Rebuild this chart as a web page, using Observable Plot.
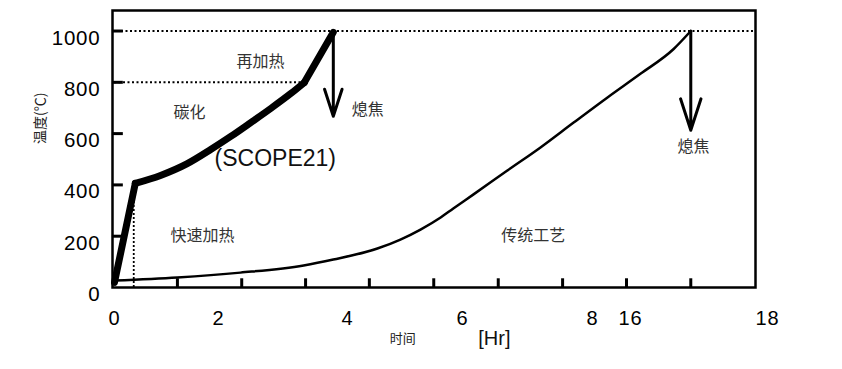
<!DOCTYPE html>
<html><head><meta charset="utf-8">
<script src="https://cdn.jsdelivr.net/npm/d3@7"></script>
<script src="https://cdn.jsdelivr.net/npm/@observablehq/plot@0.6"></script>
<style>
body{margin:0;background:#fff}
svg{display:block}
g[aria-label="y-axis tick label"] text, g[aria-label="x-axis tick label"] text {letter-spacing: 0.8px}
</style>
</head><body><div id="chart"></div>
<script>
// Axis tick labels (broken time axis: 0–8 h, then 16–18 h)
const xTickValues = [0, 2, 4, 6, 8, 16, 18];
const xTickLabels = ["0", "2", "4", "6", "8", "16", "18"];
const xTickMarks = [1.21, 2.36, 3.35, 4.38, 5.5, 6.55, 7.54, 15.16, 16.88];
const yTickValues = [0, 200, 400, 600, 800, 1000];

// SCOPE21 process (hours, °C)
const scopeHours = [0, 0.4, 0.885, 1.4, 1.85, 2.19, 2.5, 2.81, 3.12, 3.33, 3.78];
const scopeTemp  = [20, 406, 437, 483, 538, 589, 643, 698, 756, 799, 995];

// Conventional process (hours, °C)
const tradHours = [0, 1.21, 2.34, 3.32, 3.78, 4.52, 4.92, 5.27, 5.62, 5.84, 6.17, 6.69, 7.20, 7.71, 11.16, 16.15, 16.63, 16.88];
const tradTemp  = [27, 39, 58, 86, 109, 152, 187, 226, 273, 308, 363, 456, 546, 643, 741, 834, 930, 1000];

// Quench arrows
const quenchX = [3.78, 16.88];
const quenchFrom = [1000, 1000];
const quenchTo = [668, 613];

// Region annotations
const annoText = ["再加热", "碳化", "熄焦", "快速加热", "传统工艺", "熄焦"];
const annoX = [2.65, 1.44, 4.35, 1.69, 7.09, 16.92];
const annoY = [879, 680, 691, 203, 203, 547];

const scopeLabel = "(SCOPE21)";
const scopeLabelX = 2.88, scopeLabelY = 503;
const yLabel = "温度(℃)";
const xLabel = "时间";
const xUnit = "[Hr]";
const xLabelX = 4.96, xUnitX = 6.49;
const rapidEndHour = 0.37, rapidEndTemp = 390;
const carbEndHour = 3.33;

const pts = (H, T) => H.map((h, i) => ({h, t: T[i]}));
const scope = pts(scopeHours, scopeTemp);
const scopeRapid = scope.slice(0, 2);
const scopeCarb = scope.slice(1, 10);
const scopeReheat = scope.slice(9);
const trad = pts(tradHours, tradTemp);
const arrows = quenchX.map((x, i) => ({x, y1: quenchFrom[i], y2: quenchTo[i]}));
const annos = annoText.map((s, i) => ({s, x: annoX[i], y: annoY[i]}));

const num = "Liberation Sans, Arial, sans-serif";
const cjk = "Noto Sans CJK SC, sans-serif";

const chart = Plot.plot({
  width: 842, height: 369,
  marginLeft: 112, marginRight: 87, marginTop: 10, marginBottom: 82,
  style: {background: "#fff", color: "#000", fontFamily: num},
  x: {type: "linear", domain: xTickValues, range: [114, 218, 347, 462, 592, 630, 767]},
  y: {domain: [0, 1080]},
  marks: [
    Plot.ruleY([1000], {strokeDasharray: "2,2.5", strokeWidth: 2}),
    Plot.ruleY([800], {x1: 0, x2: carbEndHour, strokeDasharray: "2,2.5", strokeWidth: 2}),
    Plot.ruleX([rapidEndHour], {y1: 0, y2: rapidEndTemp, strokeDasharray: "2,2", strokeWidth: 1.8}),
    Plot.ruleX(xTickMarks, {x: d => d, y1: 0, y2: 34, strokeWidth: 3, stroke: "#000"}),
    Plot.ruleY(yTickValues.slice(1), {y: d => d, x1: -0.04, x2: 0.17, strokeWidth: 3, stroke: "#000"}),
    Plot.frame({strokeWidth: 2.5}),
    Plot.line(trad, {x: "h", y: "t", strokeWidth: 2.5, stroke: "#000", curve: "monotone-x"}),
    Plot.line(scopeRapid, {x: "h", y: "t", strokeWidth: 7, stroke: "#000", strokeLinecap: "round"}),
    Plot.line(scopeCarb, {x: "h", y: "t", strokeWidth: 7, stroke: "#000", curve: "monotone-x", strokeLinecap: "round"}),
    Plot.line(scopeReheat, {x: "h", y: "t", strokeWidth: 7, stroke: "#000", strokeLinecap: "round"}),
    Plot.arrow(arrows, {x1: "x", x2: "x", y1: "y1", y2: "y2", strokeWidth: 3, headLength: 18, headAngle: 36, stroke: "#000"}),
    Plot.text(annos, {x: "x", y: "y", text: "s", fontFamily: cjk, fontSize: 16, fill: "#333"}),
    Plot.text([scopeLabel], {x: scopeLabelX, y: scopeLabelY, fontSize: 23, fontFamily: num, fill: "#111"}),
    Plot.axisX({ticks: xTickValues, tickFormat: d => xTickLabels[xTickValues.indexOf(d)], tickSize: 0, tickPadding: 23, fontSize: 20, label: null}),
    Plot.axisY({ticks: yTickValues, tickFormat: d => String(d), tickSize: 0, tickPadding: 12, fontSize: 20.5, dy: 7, label: null}),
    Plot.text([yLabel], {frameAnchor: "left", dx: -72, dy: -5, rotate: -90, fontFamily: cjk, fontSize: 14, fill: "#222"}),
    Plot.text([xLabel], {x: xLabelX, frameAnchor: "bottom", dy: 55, fontFamily: cjk, fontSize: 13, fill: "#222"}),
    Plot.text([xUnit], {x: xUnitX, frameAnchor: "bottom", dy: 57, fontFamily: num, fontSize: 20, fill: "#111"})
  ]
});
document.getElementById("chart").appendChild(chart);
</script>
</body></html>
